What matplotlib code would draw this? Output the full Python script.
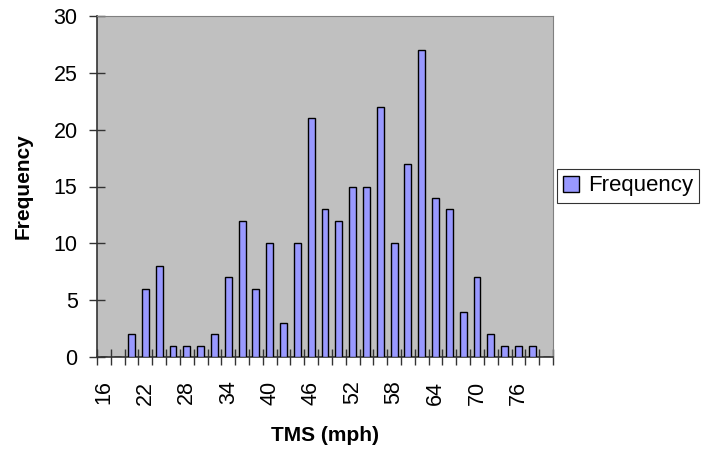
import matplotlib
matplotlib.use("Agg")
import matplotlib.pyplot as plt
from matplotlib.ticker import FixedLocator, NullFormatter

plt.rcParams['font.family'] = ['Liberation Sans', 'DejaVu Sans']

# TMS bins (mph) and counts
speeds = list(range(16, 82, 2))
freq = [0, 0, 2, 6, 8, 1, 1, 1, 2, 7, 12, 6, 10, 3, 10, 21, 13, 12, 15, 15,
        22, 10, 17, 27, 14, 13, 4, 7, 2, 1, 1, 1, 0]
yticks = [0, 5, 10, 15, 20, 25, 30]

fig = plt.figure(figsize=(7.03, 4.51), dpi=100)
ax = fig.add_axes([97/703, 1-357/451, (553-97)/703, (357-16)/451])
ax.set_facecolor('#C0C0C0')

pos = list(range(len(speeds)))
ax.bar(pos, freq, width=0.5, color='#9999FF', edgecolor='black', linewidth=1.0,
       label='Frequency', zorder=3)

ax.set_xlim(-0.5, len(speeds) - 0.5)
ax.set_ylim(0, 30)
ax.set_yticks(yticks)

# labels every third category, tick marks at category boundaries
ax.set_xticks(pos[::3])
ax.set_xticklabels([str(s) for s in speeds[::3]], rotation=90)
ax.xaxis.set_minor_locator(FixedLocator([p - 0.5 for p in pos] + [len(pos) - 0.5]))
ax.xaxis.set_minor_formatter(NullFormatter())
ax.tick_params(axis='x', which='major', length=0, labelsize=15.5, pad=17)
ax.tick_params(axis='x', which='minor', direction='inout', length=11, width=1, color='#333333')
ax.tick_params(axis='y', direction='inout', length=12, width=1, labelsize=15.5, pad=8, color='#333333')

for s in ['top', 'right']:
    ax.spines[s].set_color('#808080')
for s in ['left', 'bottom']:
    ax.spines[s].set_color('#333333')
    ax.spines[s].set_linewidth(1.2)

ax.set_xlabel('TMS (mph)', fontsize=15, fontweight='bold', labelpad=15)
ax.set_ylabel('Frequency', fontsize=15, fontweight='bold', labelpad=15)

leg = fig.legend(loc='center left', bbox_to_anchor=(557/703, 1-186/451),
                 fontsize=16, frameon=True, fancybox=False, handlelength=0.7,
                 handleheight=0.7, handletextpad=0.4, borderpad=0.28, borderaxespad=0)
leg.get_frame().set_edgecolor('black')
leg.get_frame().set_linewidth(0.8)

fig.savefig('out.png', dpi=100)
